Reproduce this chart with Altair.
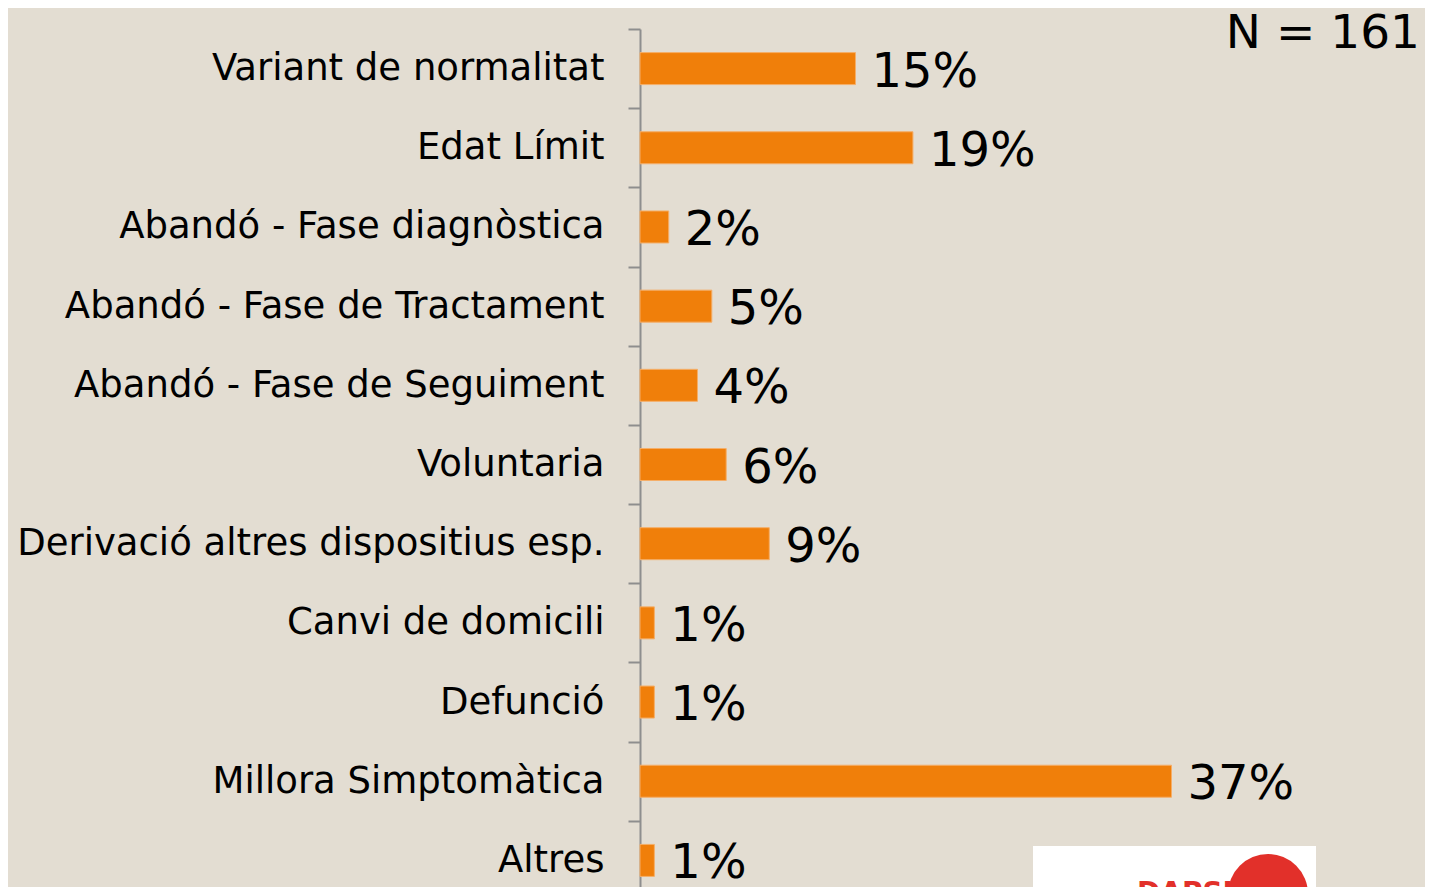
import altair as alt
import pandas as pd

categories = [
    "Variant de normalitat",
    "Edat Límit",
    "Abandó - Fase diagnòstica",
    "Abandó - Fase de Tractament",
    "Abandó - Fase de Seguiment",
    "Voluntaria",
    "Derivació altres dispositius esp.",
    "Canvi de domicili",
    "Defunció",
    "Millora Simptomàtica",
    "Altres",
]
values = [15, 19, 2, 5, 4, 6, 9, 1, 1, 37, 1]
labels = [f"{v}%" for v in values]
note = ["N = 161"]
logo_text = ["DAPSI"]

df = pd.DataFrame({"cat": categories, "val": values, "lab": labels})

FONT = "DejaVu Sans"
ORANGE = "#F07F0A"
RED = "#E2302A"

y_enc = alt.Y(
    "cat:N",
    sort=categories,
    scale=alt.Scale(paddingInner=0, paddingOuter=0),
    axis=alt.Axis(
        title=None,
        tickBand="extent",
        tickSize=12,
        tickWidth=2,
        tickColor="#8E8E8E",
        domainColor="#8E8E8E",
        domainWidth=2,
        labelPadding=24,
        labelFont=FONT,
        labelFontSize=37,
        labelColor="#000000",
        labelLimit=1000,
        labelOffset=0,
        grid=False,
    ),
)
x_enc = alt.X("val:Q", scale=alt.Scale(domain=[0, 54.3]), axis=None)

base = alt.Chart(df)
bars = base.mark_bar(color=ORANGE, stroke="#F5AE68", strokeWidth=1, size=32).encode(
    x=x_enc, y=y_enc
)
texts = base.mark_text(
    align="left", baseline="middle", dx=16, dy=4, font=FONT, fontSize=48, color="#000000"
).encode(x=x_enc, y=y_enc, text="lab:N")

note_layer = alt.Chart(pd.DataFrame({"t": note})).mark_text(
    align="right", baseline="alphabetic", font=FONT, fontSize=47, color="#000000"
).encode(x=alt.value(780), y=alt.value(19), text="t:N")

logo_rect = alt.Chart(pd.DataFrame({"t": logo_text})).mark_rect(color="#FFFFFF").encode(
    x=alt.value(393), x2=alt.value(676), y=alt.value(817), y2=alt.value(880)
)
logo_circle = alt.Chart(pd.DataFrame({"t": logo_text})).mark_point(
    shape="circle", filled=True, color=RED, size=6400, opacity=1
).encode(x=alt.value(628), y=alt.value(865))
logo_word = alt.Chart(pd.DataFrame({"t": logo_text})).mark_text(
    align="left", baseline="top", font=FONT, fontSize=28, fontWeight="bold", color=RED
).encode(x=alt.value(497), y=alt.value(851), text="t:N")

chart = (
    alt.layer(bars, texts, note_layer, logo_rect, logo_circle, logo_word)
    .properties(
        width=780,
        height=871,
        background="#E3DDD2",
        autosize=alt.AutoSizeParams(type="none"),
        padding={"left": 632, "top": 21, "right": 5, "bottom": -13},
    )
    .configure_view(stroke=None)
)

chart.save("out.html", embed_options={"renderer": "svg", "actions": False})
